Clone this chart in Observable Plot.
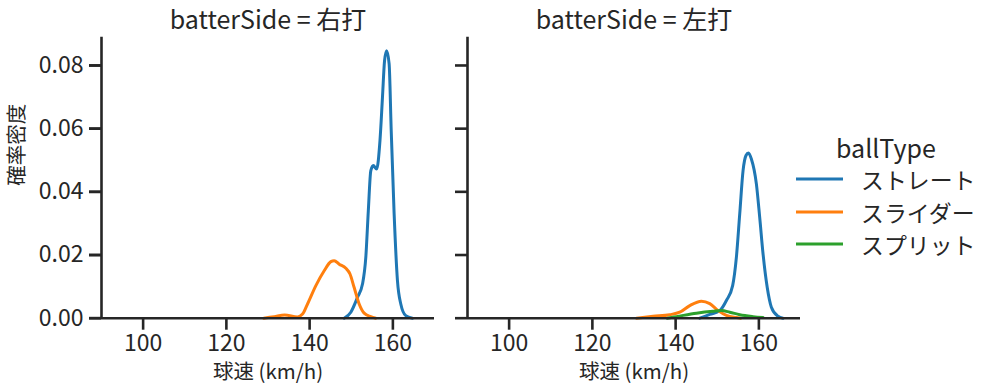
<!DOCTYPE html>
<html>
<head>
<meta charset="utf-8">
<script src="https://cdn.jsdelivr.net/npm/d3@7"></script>
<script src="https://cdn.jsdelivr.net/npm/@observablehq/plot@0.6"></script>
<style>
  html, body { margin: 0; padding: 0; background: #fff; }
  #wrap { position: relative; width: 995px; height: 391px; font-family: "Noto Sans CJK JP", sans-serif; color: #262626; }
  #legend { position: absolute; left: 0; top: 0; width: 995px; height: 391px; pointer-events: none; }
  .lg-title { position: absolute; font-size: 25px; line-height: 1; transform: translateY(-50%); }
  .lg-line { position: absolute; height: 3px; transform: translateY(-50%); }
  .lg-text { position: absolute; font-size: 22.9px; line-height: 1; transform: translateY(-50%); }
</style>
</head>
<body>
<div id="wrap"></div>
<script>
// ---- data ----
const sides = ["右打", "左打"];
const ballTypes = ["ストレート", "スライダー", "スプリット"];
const colors = ["#1f77b4", "#ff7f0e", "#2ca02c"];
const xTicks = [100, 120, 140, 160];
const yTicks = [0, 0.02, 0.04, 0.06, 0.08];
const legendTitle = "ballType";
const xLabel = "球速 (km/h)";
const yLabel = "確率密度";

// 右打 / ストレート
const rStraightSpeed   = [148.3, 149.9, 151.5, 152.7, 153.5, 154.1, 154.7, 155.3, 156.1, 156.9, 157.5, 158.0, 158.5, 159.1, 159.6, 160.3, 161.1, 161.9, 163.1, 164.7];
const rStraightDensity = [0.0, 0.0019, 0.0066, 0.0108, 0.0193, 0.034, 0.0467, 0.0483, 0.0472, 0.0562, 0.0699, 0.0815, 0.0847, 0.0805, 0.0594, 0.0331, 0.0119, 0.0045, 0.0008, 0.0];
// 右打 / スライダー
const rSliderSpeed   = [129.0, 131.5, 134.0, 137.1, 138.3, 139.5, 141.5, 143.5, 145.1, 145.9, 147.1, 148.7, 149.7, 150.7, 151.9, 153.1, 154.7, 155.9];
const rSliderDensity = [0.0, 0.0005, 0.001, 0.0004, 0.0013, 0.0045, 0.0103, 0.015, 0.0179, 0.0182, 0.0171, 0.0158, 0.014, 0.0097, 0.0045, 0.0016, 0.0005, 0.0];

// 左打 / ストレート
const lStraightSpeed   = [145.8, 148.2, 150.6, 152.2, 153.7, 154.6, 155.4, 156.2, 156.9, 157.5, 158.2, 159.4, 160.2, 161.0, 162.0, 163.0, 164.6, 165.8];
const lStraightDensity = [0.0, 0.0012, 0.0024, 0.0056, 0.0103, 0.0193, 0.033, 0.0467, 0.0515, 0.0523, 0.0504, 0.0425, 0.0319, 0.0204, 0.0098, 0.0035, 0.0006, 0.0];
// 左打 / スライダー
const lSliderSpeed   = [130.6, 134.6, 138.6, 141.0, 143.4, 146.2, 148.2, 150.2, 152.2, 154.6, 155.6];
const lSliderDensity = [0.0, 0.0006, 0.0011, 0.0019, 0.004, 0.0054, 0.0046, 0.0024, 0.0009, 0.0002, 0.0];
// 左打 / スプリット
const lSplitSpeed   = [138.0, 140.2, 145.0, 149.0, 151.0, 153.0, 155.4, 158.6, 161.0];
const lSplitDensity = [0.0, 0.0005, 0.0016, 0.0022, 0.0024, 0.0019, 0.0011, 0.0005, 0.0002];

// ---- build the table Plot needs ----
const series = [
  [sides[0], ballTypes[0], rStraightSpeed, rStraightDensity],
  [sides[0], ballTypes[1], rSliderSpeed, rSliderDensity],
  [sides[1], ballTypes[0], lStraightSpeed, lStraightDensity],
  [sides[1], ballTypes[1], lSliderSpeed, lSliderDensity],
  [sides[1], ballTypes[2], lSplitSpeed, lSplitDensity]
];
const rows = series.flatMap(([side, type, xs, ys]) =>
  xs.map((speed, i) => ({side, type, speed, density: ys[i]})));

const ink = "#262626";
const plot = Plot.plot({
  width: 995,
  height: 391,
  marginLeft: 100.7,
  marginRight: 194.2,
  marginTop: 36.7,
  marginBottom: 73.3,
  style: {fontFamily: '"Noto Sans CJK JP", sans-serif', color: ink, background: "#fff", overflow: "visible"},
  fx: {domain: sides, paddingInner: 0.0903, paddingOuter: 0},
  x: {domain: [90, 170]},
  y: {domain: [0, 0.08895]},
  color: {domain: ballTypes, range: colors},
  marks: [
    Plot.line(rows, {x: "speed", y: "density", z: "type", stroke: "type", fx: "side",
      strokeWidth: 3, curve: "monotone-x", strokeLinejoin: "round", strokeLinecap: "round"}),
    Plot.ruleY([0], {stroke: ink, strokeWidth: 2.6}),
    Plot.ruleX([90], {stroke: ink, strokeWidth: 2.6}),
    Plot.axisX({ticks: xTicks, tickSize: 12, tickPadding: 4, fontSize: 23, strokeWidth: 2.6, label: null}),
    Plot.axisY({ticks: yTicks, tickSize: 12, tickPadding: 6, fontSize: 23, strokeWidth: 2.6,
      tickFormat: d3.format(".2f"), label: null}),
    Plot.axisY({ticks: yTicks, tickSize: 12, strokeWidth: 2.6, tickFormat: () => "", label: null, facetAnchor: null}),
    Plot.axisFx({anchor: "top", tickSize: 0, tickPadding: 8, fontSize: 25, label: null,
      tickFormat: d => `batterSide = ${d}`}),
    Plot.text([xLabel], {text: d => d, frameAnchor: "bottom", lineAnchor: "middle", dy: 54, fontSize: 20.5, fill: ink}),
    Plot.text([yLabel], {text: d => d, frameAnchor: "left", lineAnchor: "middle", rotate: -90,
      dx: -83.7, dy: 8, fontSize: 20.5, fill: ink, facetAnchor: "left"})
  ]
});

const wrap = document.getElementById("wrap");
wrap.appendChild(plot);

// ---- legend (HTML, colours from the plot's colour scale) ----
const colorScale = plot.scale("color");
const legend = document.createElement("div");
legend.id = "legend";
const title = document.createElement("div");
title.className = "lg-title";
title.textContent = legendTitle;
title.style.left = "836px";
title.style.top = "146.7px";
legend.appendChild(title);
ballTypes.forEach((t, i) => {
  const y = 179.3 + i * 32.35;
  const line = document.createElement("div");
  line.className = "lg-line";
  line.style.left = "796px";
  line.style.width = "47px";
  line.style.top = y + "px";
  line.style.background = colorScale.apply(t);
  legend.appendChild(line);
  const txt = document.createElement("div");
  txt.className = "lg-text";
  txt.style.left = "861px";
  txt.style.top = y + "px";
  txt.textContent = t;
  legend.appendChild(txt);
});
wrap.appendChild(legend);
</script>
</body>
</html>
